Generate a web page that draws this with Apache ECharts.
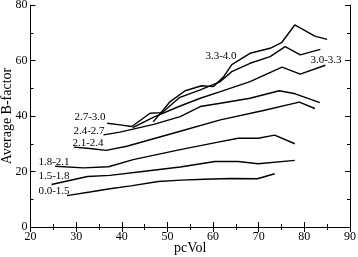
<!DOCTYPE html>
<html>
<head>
<meta charset="utf-8">
<script src="https://cdn.jsdelivr.net/npm/echarts@6/dist/echarts.min.js"></script>
<style>
  html, body { margin: 0; padding: 0; background: #fff; }
  #chart { width: 358px; height: 257px; }
</style>
</head>
<body>
<div id="chart"></div>
<script>
// pcVol / Average B-factor pairs, one array per resolution bin
const s00_15 = [[28, 11.3], [33, 12.6], [37.4, 13.8], [42, 14.8], [48, 16.4], [53, 16.9], [58, 17.2], [64, 17.5], [69.7, 17.4], [73.5, 19.2]];
const s15_18 = [[24.6, 15.3], [32.5, 18.2], [37.4, 18.6], [45, 20.1], [52.8, 21.6], [60.4, 23.6], [65.5, 23.6], [69.9, 22.8], [77.9, 24.0]];
const s18_21 = [[25.4, 21.9], [31.6, 21.3], [37.1, 21.7], [42.5, 24.3], [52.8, 27.9], [61.1, 30.6], [65.5, 32.0], [69.9, 32.0], [73.5, 33.1], [77.9, 30.0]];
const s21_24 = [[29.5, 28.8], [33, 28.3], [36.6, 27.6], [41.1, 29.1], [52.8, 34.5], [61.6, 38.6], [70.8, 41.9], [78.9, 45.0], [82.3, 42.7]];
const s24_27 = [[36, 33.2], [39.6, 34.2], [47, 37.0], [52.8, 39.8], [57.2, 43.4], [61.6, 44.6], [68.1, 46.4], [74.5, 49.1], [78, 48.0], [83.4, 44.8]];
const s27_30 = [[36.8, 37.4], [39.6, 36.8], [42.2, 36.2], [46.2, 41.0], [48.8, 41.2], [52.6, 46.6], [57.2, 49.4], [61.6, 52.4], [64.1, 56.0], [68.1, 59.0], [72.5, 61.4], [75.8, 65.0], [79.1, 62.0], [83.5, 64.0]];
const s30_33 = [[42.4, 35.8], [47, 39.6], [52.8, 43.6], [57.2, 46.4], [61.6, 48.8], [68.1, 52.4], [75.1, 57.6], [79.1, 55.1], [84.6, 58.3]];
const s33_40 = [[46.9, 37.9], [50.6, 45.2], [53.9, 49.1], [57.5, 50.9], [60.1, 50.6], [62.3, 54.1], [64.1, 58.5], [68.1, 62.6], [72.5, 64.4], [75, 66.4], [77.9, 72.8], [82.3, 68.8], [85, 67.6]];

const seriesNames = ['0.0-1.5', '1.5-1.8', '1.8-2.1', '2.1-2.4', '2.4-2.7', '2.7-3.0', '3.0-3.3', '3.3-4.0'];
const seriesData = [s00_15, s15_18, s18_21, s21_24, s24_27, s27_30, s30_33, s33_40];

// label anchors (pixels) for the in-plot bin labels
const labelPos = {
  '0.0-1.5': [54, 191], '1.5-1.8': [54, 176], '1.8-2.1': [54, 162],
  '2.1-2.4': [88, 143], '2.4-2.7': [89, 131], '2.7-3.0': [90, 117],
  '3.0-3.3': [326, 60], '3.3-4.0': [221, 56]
};

const font = 'Liberation Serif';
const chart = echarts.init(document.getElementById('chart'));

const tickStyle = { show: true, inside: true, length: 5, lineStyle: { color: '#000', width: 1 } };
const minorStyle = { show: true, splitNumber: 2, length: 3, lineStyle: { color: '#000', width: 1 } };

const option = {
  animation: false,
  backgroundColor: '#fff',
  grid: { left: 30.5, right: 8, top: 5, bottom: 30, show: false, containLabel: false, outerBoundsMode: 'none' },
  xAxis: [
    {
      type: 'value', min: 20, max: 90, interval: 10,
      name: 'pcVol', nameLocation: 'middle', nameGap: 14, nameMoveOverlap: false,
      nameTextStyle: { fontFamily: font, fontSize: 14, color: '#000' },
      axisLine: { lineStyle: { color: '#000', width: 1 } },
      axisTick: tickStyle, minorTick: minorStyle,
      axisLabel: { fontFamily: font, fontSize: 12, color: '#000', margin: 4 },
      splitLine: { show: false }
    },
    {
      type: 'value', min: 20, max: 90, interval: 10, position: 'top',
      axisLine: { show: true, lineStyle: { color: '#000', width: 1 } },
      axisTick: tickStyle, minorTick: minorStyle,
      axisLabel: { show: false }, splitLine: { show: false }
    }
  ],
  yAxis: [
    {
      type: 'value', min: 0, max: 80, interval: 20,
      name: 'Average B-factor', nameLocation: 'middle', nameGap: 16, nameMoveOverlap: false,
      nameTextStyle: { fontFamily: font, fontSize: 14, color: '#000' },
      axisLine: { show: true, lineStyle: { color: '#000', width: 1 } },
      axisTick: tickStyle, minorTick: minorStyle,
      axisLabel: { fontFamily: font, fontSize: 12, color: '#000', margin: 3 },
      splitLine: { show: false }
    },
    {
      type: 'value', min: 0, max: 80, interval: 20, position: 'right',
      axisLine: { show: true, lineStyle: { color: '#000', width: 1 } },
      axisTick: tickStyle, minorTick: minorStyle,
      axisLabel: { show: false }, splitLine: { show: false }
    }
  ],
  series: seriesData.map((d, i) => ({
    name: seriesNames[i],
    type: 'line',
    data: d,
    showSymbol: false,
    lineStyle: { color: '#000', width: 1.4 },
    silent: true
  })),
  graphic: seriesNames.map(n => ({
    type: 'text',
    x: labelPos[n][0], y: labelPos[n][1],
    style: {
      text: n, fontFamily: font, fontSize: 11, fill: '#000',
      align: 'center', verticalAlign: 'middle'
    },
    z: 100
  }))
};

chart.setOption(option);
</script>
</body>
</html>
